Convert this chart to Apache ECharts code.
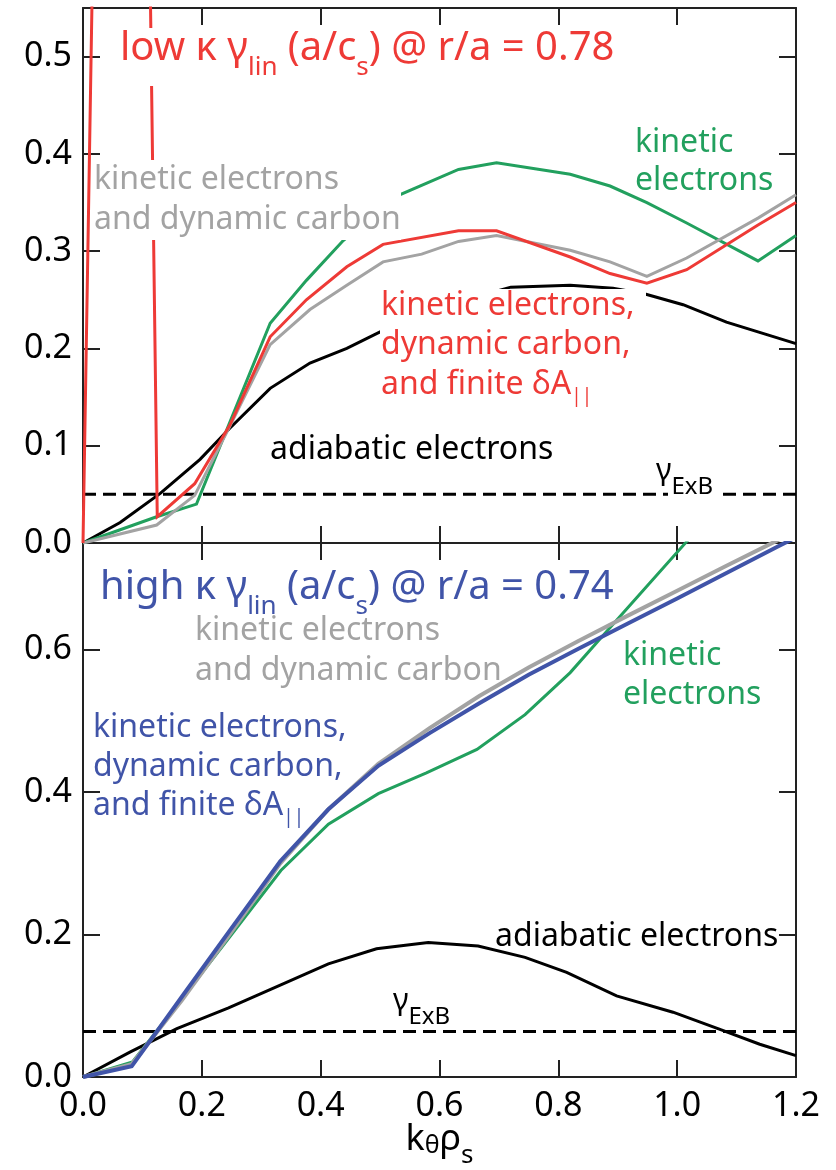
<!DOCTYPE html>
<html><head><meta charset="utf-8">
<script src="https://cdn.jsdelivr.net/npm/echarts@6/dist/echarts.min.js"></script>
<style>html,body{margin:0;padding:0;background:#fff}#c{width:836px;height:1170px}</style>
</head><body><div id="c"></div>
<script>
// ---------- data ----------
const xTickValues = [0, 0.2, 0.4, 0.6, 0.8, 1.0, 1.2];
const yTicksTop = [0, 0.1, 0.2, 0.3, 0.4, 0.5];
const yTicksBottom = [0, 0.2, 0.4, 0.6];

// top panel (low kappa, r/a = 0.78)
const topAdiabaticX = [0, 0.0625, 0.13, 0.197, 0.247, 0.315, 0.382, 0.444, 0.5, 0.6, 0.72, 0.82, 0.892, 0.946, 1.01, 1.083, 1.2];
const topAdiabaticY = [0, 0.021, 0.051, 0.086, 0.118, 0.159, 0.185, 0.2, 0.217, 0.243, 0.263, 0.265, 0.262, 0.256, 0.245, 0.227, 0.205];
const topKineticX = [0, 0.124, 0.191, 0.315, 0.376, 0.438, 0.533, 0.632, 0.696, 0.820, 0.887, 0.949, 1.016, 1.136, 1.2];
const topKineticY = [0, 0.027, 0.040, 0.226, 0.270, 0.311, 0.358, 0.384, 0.391, 0.379, 0.367, 0.350, 0.329, 0.290, 0.316];
const topCarbonX = [0, 0.124, 0.188, 0.247, 0.315, 0.382, 0.444, 0.505, 0.570, 0.632, 0.696, 0.820, 0.887, 0.949, 1.016, 1.136, 1.2];
const topCarbonY = [0, 0.0185, 0.049, 0.12, 0.204, 0.24, 0.265, 0.289, 0.297, 0.310, 0.316, 0.301, 0.289, 0.274, 0.293, 0.334, 0.358];
const topFullX = [0, 0.07, 0.125, 0.188, 0.247, 0.315, 0.376, 0.444, 0.505, 0.632, 0.696, 0.820, 0.887, 0.949, 1.016, 1.136, 1.2];
const topFullY = [0, 2.57, 0.027, 0.061, 0.121, 0.212, 0.25, 0.284, 0.307, 0.321, 0.321, 0.294, 0.277, 0.267, 0.281, 0.327, 0.350];
const topExB = 0.05;

// bottom panel (high kappa, r/a = 0.74)
const botAdiabaticX = [0, 0.079, 0.158, 0.245, 0.332, 0.413, 0.494, 0.581, 0.665, 0.744, 0.814, 0.898, 0.993, 1.072, 1.139, 1.2];
const botAdiabaticY = [0, 0.035, 0.068, 0.097, 0.129, 0.159, 0.180, 0.189, 0.184, 0.168, 0.147, 0.114, 0.091, 0.067, 0.046, 0.030];
const botKineticX = [0, 0.0833, 0.1667, 0.25, 0.333, 0.413, 0.497, 0.578, 0.663, 0.744, 0.82, 0.87, 1.016, 1.1];
const botKineticY = [0, 0.021, 0.11, 0.2, 0.29, 0.355, 0.398, 0.427, 0.46, 0.509, 0.568, 0.615, 0.752, 0.83];
const botCarbonX = [0, 0.082, 0.1667, 0.25, 0.332, 0.413, 0.497, 0.5833, 0.667, 0.75, 0.833, 0.917, 1.0, 1.083, 1.167, 1.2];
const botCarbonY = [0, 0.018, 0.108, 0.204, 0.3, 0.376, 0.44, 0.49, 0.535, 0.575, 0.612, 0.648, 0.683, 0.718, 0.753, 0.768];
const botFullX = [0, 0.082, 0.1667, 0.25, 0.332, 0.413, 0.497, 0.5833, 0.667, 0.75, 0.833, 0.917, 1.0, 1.083, 1.167, 1.2];
const botFullY = [0, 0.015, 0.113, 0.209, 0.303, 0.376, 0.437, 0.483, 0.525, 0.565, 0.601, 0.637, 0.672, 0.708, 0.744, 0.758];
const botExB = 0.064;

// ---------- styling ----------
const FONT = "'Noto Sans', sans-serif";
const RED = '#EE3A36', GREEN = '#22A05E', GREY = '#A3A3A3', BLUE = '#4054A8', BLACK = '#000000', AX = '#222222';

function pairs(xs, ys) { return xs.map((x, i) => [x, ys[i]]); }
function lineSeries(name, xs, ys, color, width, gi, z, dashed) {
  return {
    type: 'line', name, data: pairs(xs, ys), xAxisIndex: gi * 2, yAxisIndex: gi * 2,
    symbol: 'none', silent: true, clip: true, z,
    lineStyle: { color, width, type: dashed ? [13, 7] : 'solid', cap: 'butt', join: 'miter' }
  };
}
function xAx(gi, pos, labels) {
  return {
    type: 'value', gridIndex: gi, position: pos, min: 0, max: 1.2, interval: 0.2,
    axisLine: { show: true, onZero: false, lineStyle: { color: AX, width: 2 } },
    axisTick: { show: true, inside: true, length: 17, lineStyle: { color: AX, width: 2 } },
    axisLabel: { show: labels, margin: 12, fontSize: 34, color: BLACK, fontFamily: FONT,
      formatter: v => xTickValues.some(t => Math.abs(t - v) < 1e-9) ? v.toFixed(1) : '' },
    splitLine: { show: false }
  };
}
function yAx(gi, pos, max, interval, ticks, labels) {
  return {
    type: 'value', gridIndex: gi, position: pos, min: 0, max, interval,
    axisLine: { show: true, onZero: false, lineStyle: { color: AX, width: 2 } },
    axisTick: { show: true, inside: true, length: 17, lineStyle: { color: AX, width: 2 } },
    axisLabel: { show: labels, margin: 11, fontSize: 34, color: BLACK, fontFamily: FONT, showMaxLabel: false,
      formatter: v => ticks.some(t => Math.abs(t - v) < 1e-9) ? v.toFixed(1) : '' },
    splitLine: { show: false }
  };
}
function label(x, y, text, color, fs, lh, rich, z) {
  return { type: 'text', x, y, z: z || 60, silent: true,
    style: { text, fill: color, fontSize: fs, fontFamily: FONT, lineHeight: lh, align: 'left', verticalAlign: 'top', rich: rich || {} } };
}
function mask(x, y, w, h) {
  return { type: 'rect', z: 50, silent: true, shape: { x, y, width: w, height: h }, style: { fill: '#ffffff' } };
}
// subscript tokens: small "height" + bottom alignment pushes them below the baseline
const subTitle = c => ({ s: { fontSize: 26, height: 3, lineHeight: 3, verticalAlign: 'bottom', fill: c, fontFamily: FONT } });
const subPar = c => ({ p: { fontSize: 19, height: 15, lineHeight: 15, verticalAlign: 'bottom', fill: c, fontFamily: FONT } });
const subExB = { e: { fontSize: 24, height: 2, lineHeight: 2, verticalAlign: 'bottom', fill: BLACK, fontFamily: FONT } };

const xAxes = [xAx(0, 'bottom', false), xAx(0, 'top', false), xAx(1, 'bottom', true), xAx(1, 'top', false)];
xAxes[2].name = 'k{t|θ}ρ{s|s}';
xAxes[2].nameLocation = 'middle';
xAxes[2].nameGap = 43;
xAxes[2].nameMoveOverlap = false;
xAxes[2].nameTextStyle = { fontSize: 36, color: BLACK, fontFamily: FONT, lineHeight: 40,
  rich: { t: { fontSize: 25, height: 28, lineHeight: 28, verticalAlign: 'bottom', fontFamily: FONT, color: BLACK },
          s: { fontSize: 26, height: 8, lineHeight: 8, verticalAlign: 'bottom', fontFamily: FONT, color: BLACK } } };

const option = {
  animation: false,
  backgroundColor: '#ffffff',
  grid: [
    { left: 83, top: 8, width: 713, height: 535 },
    { left: 83, top: 543, width: 713, height: 535 }
  ],
  xAxis: xAxes,
  yAxis: [yAx(0, 'left', 0.55, 0.1, yTicksTop, true), yAx(0, 'right', 0.55, 0.1, yTicksTop, false),
          yAx(1, 'left', 0.75, 0.2, yTicksBottom, true), yAx(1, 'right', 0.75, 0.2, yTicksBottom, false)],
  series: [
    lineSeries('top ExB', [0, 1.2], [topExB, topExB], BLACK, 3, 0, 2, true),
    lineSeries('top adiabatic electrons', topAdiabaticX, topAdiabaticY, BLACK, 3, 0, 3),
    lineSeries('top kinetic electrons', topKineticX, topKineticY, GREEN, 3, 0, 4),
    lineSeries('top kinetic electrons and dynamic carbon', topCarbonX, topCarbonY, GREY, 3, 0, 5),
    lineSeries('top kinetic electrons, dynamic carbon, finite dA', topFullX, topFullY, RED, 3, 0, 6),
    lineSeries('bottom ExB', [0, 1.2], [botExB, botExB], BLACK, 3, 1, 2, true),
    lineSeries('bottom adiabatic electrons', botAdiabaticX, botAdiabaticY, BLACK, 3, 1, 3),
    lineSeries('bottom kinetic electrons', botKineticX, botKineticY, GREEN, 3, 1, 4),
    lineSeries('bottom kinetic electrons and dynamic carbon', botCarbonX, botCarbonY, GREY, 4, 1, 5),
    lineSeries('bottom kinetic electrons, dynamic carbon, finite dA', botFullX, botFullY, BLUE, 4, 1, 6)
  ],
  graphic: { elements: [
    mask(118, 28, 506, 58),
    mask(94, 160, 307, 80),
    mask(380, 289, 266, 117),
    mask(668, 476, 49, 22),
    label(120, 29, 'low κ γ{s|lin} (a/c{s|s}) @ r/a = 0.78', RED, 40, 40, subTitle(RED)),
    label(94, 160, 'kinetic electrons\nand dynamic carbon', GREY, 32, 40),
    label(381, 286, 'kinetic electrons,\ndynamic carbon,\nand finite δA{p|||}', RED, 32, 39.5, subPar(RED)),
    label(635, 124, 'kinetic\nelectrons', GREEN, 32, 38),
    label(270, 430, 'adiabatic electrons', BLACK, 32, 39),
    label(656, 454, 'γ{e|ExB}', BLACK, 30, 34, subExB),
    label(100, 568, 'high κ γ{s|lin} (a/c{s|s}) @ r/a = 0.74', BLUE, 40, 40, subTitle(BLUE)),
    label(195, 611, 'kinetic electrons\nand dynamic carbon', GREY, 32, 40),
    label(93, 708, 'kinetic electrons,\ndynamic carbon,\nand finite δA{p|||}', BLUE, 32, 39, subPar(BLUE)),
    label(623, 637, 'kinetic\nelectrons', GREEN, 32, 38.5),
    label(495, 917, 'adiabatic electrons', BLACK, 32, 39),
    label(393, 984, 'γ{e|ExB}', BLACK, 30, 34, subExB)
  ] }
};
const chart = echarts.init(document.getElementById('c'), null, { renderer: 'canvas' });
chart.setOption(option);
</script></body></html>
